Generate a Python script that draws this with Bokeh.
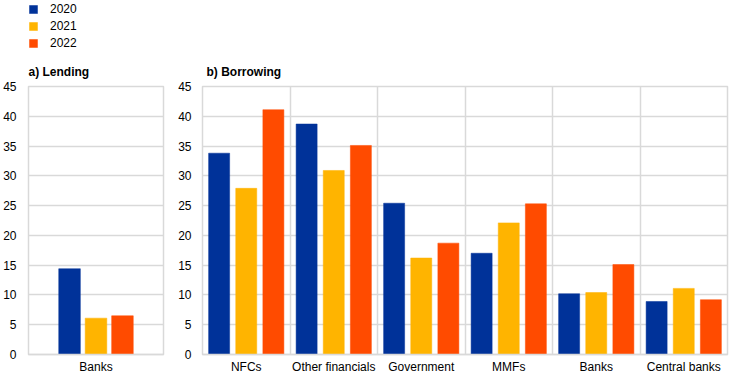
from bokeh.plotting import figure
from bokeh.layouts import row, column
from bokeh.models import (ColumnDataSource, FixedTicker, Grid, Legend, LegendItem,
                          Range1d)
from bokeh.embed import file_html
from bokeh.resources import INLINE

# ---- data ----
years = ["2020", "2021", "2022"]
colors = ["#003299", "#FFB400", "#FF4B00"]

lending_cats = ["Banks"]
lending_2020 = [14.4]
lending_2021 = [6.1]
lending_2022 = [6.5]

borrowing_cats = ["NFCs", "Other financials", "Government", "MMFs", "Banks", "Central banks"]
borrowing_2020 = [33.8, 38.7, 25.4, 17.0, 10.2, 8.9]
borrowing_2021 = [27.9, 30.9, 16.2, 22.1, 10.4, 11.1]
borrowing_2022 = [41.1, 35.1, 18.7, 25.3, 15.1, 9.2]

y_ticks = list(range(0, 50, 5))

FONT = "Liberation Sans"
GRID = "#d9d9d9"
LEGEND_H = 52


def style_title(t, offset):
    t.text_font = FONT
    t.text_font_size = "12px"
    t.text_font_style = "bold"
    t.text_color = "#000000"
    t.standoff = 16
    t.offset = offset


def make_panel(cats, series, frame_w, bar_w, offset, min_left, min_right, y_standoff):
    n = len(cats)
    centers = [i + 0.5 for i in range(n)]
    p = figure(frame_width=frame_w, frame_height=268, output_backend="svg",
               toolbar_location=None, x_range=Range1d(0, n), y_range=Range1d(0, 45),
               min_border_left=min_left, min_border_right=min_right,
               min_border_top=86 - LEGEND_H, min_border_bottom=20)
    p.outline_line_color = GRID
    p.outline_line_width = 1.5
    p.background_fill_color = "white"
    p.border_fill_color = "white"

    renderers = []
    for k, vals in enumerate(series):
        xs = [c + (k - 1) * offset for c in centers]
        src = ColumnDataSource(dict(x=xs, top=vals))
        r = p.vbar(x="x", top="top", width=bar_w, source=src,
                   fill_color=colors[k], line_color=colors[k], line_alpha=0.5)
        renderers.append(r)

    # axes
    p.xaxis.ticker = FixedTicker(ticks=centers)
    p.xaxis.major_label_overrides = {c: lab for c, lab in zip(centers, cats)}
    p.yaxis.ticker = FixedTicker(ticks=y_ticks)
    for ax in (p.xaxis, p.yaxis):
        ax.major_tick_line_color = None
        ax.minor_tick_line_color = None
        ax.major_tick_out = 0
        ax.major_tick_in = 0
        ax.minor_tick_out = 0
        ax.major_label_text_font = FONT
        ax.major_label_text_font_size = "12px"
        ax.major_label_text_color = "#000000"
    p.xaxis.axis_line_color = GRID
    p.xaxis.axis_line_width = 1.5
    p.yaxis.axis_line_color = None
    p.xaxis.major_label_standoff = 5
    p.yaxis.major_label_standoff = y_standoff

    p.xgrid.grid_line_color = None
    p.ygrid.grid_line_color = GRID
    p.ygrid.grid_line_width = 1.5
    if n > 1:
        p.add_layout(Grid(dimension=0, ticker=FixedTicker(ticks=list(range(1, n))),
                          grid_line_color=GRID, grid_line_width=1.5))
    return p, renderers


pa, ra = make_panel(lending_cats, [lending_2020, lending_2021, lending_2022],
                    135, 0.16, 0.196, 28, 7, 12)
pb, rb = make_panel(borrowing_cats, [borrowing_2020, borrowing_2021, borrowing_2022],
                    525, 0.24, 0.31, 32, 12, 11)

pa.title.text = "a) Lending"
style_title(pa.title, 0)
pb.title.text = "b) Borrowing"
style_title(pb.title, 4)

# ---- legend strip on top (its renderers share panel a's data, kept outside its view) ----
pl = figure(width=170, height=LEGEND_H, output_backend="svg", toolbar_location=None,
            x_axis_type=None, y_axis_type=None,
            x_range=Range1d(10, 11), y_range=Range1d(100, 101),
            min_border=0, min_border_left=28, min_border_top=2,
            min_border_right=0, min_border_bottom=0)
pl.outline_line_color = None
pl.background_fill_color = "white"
pl.border_fill_color = "white"
leg_renderers = []
for k, r in enumerate(ra):
    leg_renderers.append(pl.vbar(x="x", top="top", width=0.1, source=r.data_source,
                                 fill_color=colors[k], line_color=colors[k], line_alpha=0.5))

legend = Legend(items=[LegendItem(label=y, renderers=[r]) for y, r in zip(years, leg_renderers)],
                location="top_left", orientation="vertical",
                glyph_width=10, glyph_height=10, label_height=10,
                spacing=3, padding=0, margin=0, label_standoff=12,
                label_text_font=FONT, label_text_font_size="12px",
                label_text_color="#000000",
                border_line_color=None, background_fill_alpha=0)
pl.add_layout(legend, "center")

layout = column(pl, row(pa, pb))
open("out.html", "w").write(file_html(layout, INLINE))
